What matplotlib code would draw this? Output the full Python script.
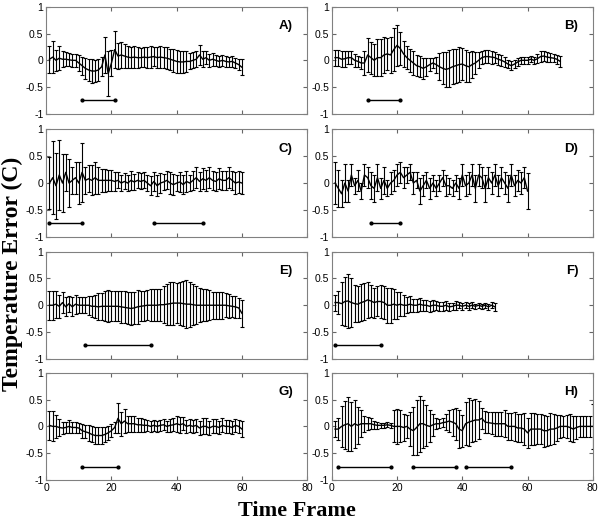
import numpy as np
import matplotlib.pyplot as plt

# mean temperature error and std per time frame
a_mean = [0.02, 0.06, 0.0, 0.04, 0.02, 0.02, 0.01, 0.0, 0.0, -0.05,
          -0.1, -0.15, -0.18, -0.2, -0.2, -0.18, -0.12, 0.1, -0.25, -0.05,
          0.2, 0.08, 0.1, 0.08, 0.06, 0.05, 0.06, 0.05, 0.05, 0.06,
          0.05, 0.06, 0.07, 0.05, 0.06, 0.05, 0.04, 0.02, 0.0, -0.02,
          -0.03, -0.03, -0.02, -0.02, 0.0, 0.02, 0.1, 0.02, 0.05, 0.0,
          0.02, 0.0, -0.02, 0.0, -0.02, -0.03, -0.02, -0.05, -0.08, -0.13]
a_err = [0.25, 0.3, 0.2, 0.22, 0.15, 0.13, 0.12, 0.12, 0.12, 0.15,
         0.17, 0.2, 0.2, 0.22, 0.2, 0.2, 0.18, 0.33, 0.42, 0.25,
         0.35, 0.25, 0.25, 0.22, 0.2, 0.2, 0.2, 0.2, 0.18, 0.18,
         0.2, 0.2, 0.18, 0.2, 0.2, 0.2, 0.2, 0.2, 0.22, 0.22,
         0.2, 0.2, 0.2, 0.15, 0.15, 0.15, 0.18, 0.15, 0.12, 0.12,
         0.12, 0.1, 0.1, 0.1, 0.1, 0.1, 0.1, 0.1, 0.1, 0.15]

b_mean = [0.05, 0.05, 0.02, 0.03, 0.05, 0.05, 0.0, -0.02, -0.05, -0.05,
          0.1, 0.05, 0.0, 0.05, 0.05, 0.1, 0.12, 0.1, 0.2, 0.28,
          0.22, 0.12, 0.05, 0.0, -0.05, -0.1, -0.12, -0.15, -0.12, -0.08,
          -0.05, -0.08, -0.12, -0.15, -0.17, -0.15, -0.12, -0.1, -0.08, -0.07,
          -0.1, -0.12, -0.08, -0.05, 0.0, 0.05, 0.07, 0.07, 0.06, 0.05,
          0.02, 0.0, -0.03, -0.07, -0.1, -0.07, -0.03, 0.0, 0.0, 0.0,
          0.02, 0.0, 0.03, 0.07, 0.08, 0.06, 0.05, 0.04, 0.02, -0.02]
b_err = [0.15, 0.15, 0.15, 0.15, 0.12, 0.12, 0.12, 0.1, 0.12, 0.22,
         0.32, 0.3, 0.3, 0.35, 0.35, 0.33, 0.3, 0.33, 0.4, 0.38,
         0.3, 0.25, 0.22, 0.22, 0.22, 0.2, 0.2, 0.2, 0.17, 0.12,
         0.1, 0.15, 0.25, 0.3, 0.33, 0.35, 0.33, 0.32, 0.32, 0.3,
         0.3, 0.28, 0.25, 0.2, 0.15, 0.12, 0.12, 0.12, 0.12, 0.1,
         0.1, 0.1, 0.1, 0.08, 0.08, 0.08, 0.07, 0.07, 0.07, 0.06,
         0.06, 0.06, 0.08, 0.1, 0.1, 0.09, 0.08, 0.08, 0.08, 0.1]

c_mean = [0.0, 0.1, -0.05, 0.15, 0.0, 0.2, 0.0, 0.05, 0.1, 0.0,
          0.2, 0.05, 0.08, 0.05, 0.1, 0.05, 0.05, 0.05, 0.05, 0.05,
          0.03, 0.05, 0.0, 0.03, 0.0, 0.05, 0.02, 0.05, 0.03, 0.05,
          0.0, -0.05, 0.03, -0.05, 0.0, 0.02, 0.05, 0.0, -0.03, 0.0,
          0.02, -0.03, 0.03, 0.0, 0.05, 0.1, 0.03, 0.08, 0.05, 0.1,
          0.05, 0.03, 0.08, 0.05, 0.05, 0.1, 0.05, 0.0, 0.02, 0.0]
c_err = [0.48, 0.68, 0.62, 0.65, 0.55, 0.35, 0.45, 0.25, 0.3, 0.4,
         0.55, 0.25, 0.25, 0.28, 0.3, 0.25, 0.22, 0.22, 0.2, 0.2,
         0.18, 0.15, 0.15, 0.15, 0.15, 0.18, 0.15, 0.15, 0.15, 0.15,
         0.15, 0.18, 0.18, 0.2, 0.18, 0.15, 0.17, 0.2, 0.2, 0.15,
         0.18, 0.18, 0.2, 0.15, 0.18, 0.2, 0.18, 0.2, 0.2, 0.2,
         0.18, 0.18, 0.2, 0.18, 0.18, 0.2, 0.18, 0.2, 0.2, 0.2]

d_mean = [0.0, -0.1, -0.2, 0.0, -0.15, 0.15, -0.05, 0.05, -0.15, 0.15,
          0.1, -0.05, -0.1, 0.1, -0.1, 0.05, -0.1, 0.0, 0.05, 0.15,
          0.2, 0.1, 0.15, 0.2, 0.0, 0.05, -0.15, -0.05, 0.05, -0.1,
          0.0, -0.1, 0.0, 0.1, -0.05, -0.05, -0.1, 0.0, -0.1, 0.15,
          -0.05, 0.0, 0.15, -0.1, 0.15, 0.1, -0.1, 0.1, 0.0, 0.15,
          -0.05, 0.1, 0.0, -0.1, 0.15, -0.05, 0.05, 0.0, 0.1, -0.15]
d_err = [0.4, 0.35, 0.25, 0.35, 0.2, 0.2, 0.15, 0.2, 0.15, 0.2,
         0.2, 0.25, 0.25, 0.25, 0.2, 0.25, 0.15, 0.2, 0.2, 0.2,
         0.2, 0.2, 0.15, 0.15, 0.2, 0.15, 0.25, 0.2, 0.15, 0.2,
         0.15, 0.15, 0.15, 0.15, 0.2, 0.15, 0.15, 0.15, 0.2, 0.2,
         0.2, 0.2, 0.2, 0.25, 0.2, 0.2, 0.25, 0.2, 0.2, 0.2,
         0.2, 0.2, 0.2, 0.25, 0.2, 0.2, 0.2, 0.2, 0.2, 0.33]

e_mean = [0.0, 0.0, 0.02, -0.02, 0.05, -0.03, 0.03, -0.03, 0.02, 0.0,
          0.0, 0.0, 0.0, -0.02, -0.02, -0.03, -0.02, -0.02, -0.02, -0.02,
          -0.02, -0.02, -0.03, -0.04, -0.05, -0.06, -0.05, -0.03, -0.02, -0.01,
          0.0, 0.0, 0.0, 0.0, 0.01, 0.01, 0.02, 0.03, 0.04, 0.04,
          0.04, 0.03, 0.02, 0.02, 0.01, 0.0, 0.0, 0.0, 0.0, 0.0,
          0.0, 0.0, 0.0, 0.0, 0.0, -0.01, -0.02, -0.03, -0.05, -0.15]
e_err = [0.27, 0.27, 0.25, 0.22, 0.2, 0.18, 0.15, 0.18, 0.18, 0.15,
         0.15, 0.15, 0.18, 0.2, 0.22, 0.25, 0.25, 0.28, 0.3, 0.28,
         0.28, 0.28, 0.3, 0.3, 0.3, 0.3, 0.3, 0.32, 0.28, 0.28,
         0.28, 0.3, 0.3, 0.3, 0.3, 0.35, 0.38, 0.4, 0.4, 0.38,
         0.4, 0.42, 0.45, 0.42, 0.38, 0.35, 0.32, 0.3, 0.3, 0.28,
         0.25, 0.25, 0.25, 0.25, 0.22, 0.22, 0.2, 0.2, 0.18, 0.25]

f_mean = [0.05, 0.05, 0.03, 0.07, 0.08, 0.05, 0.03, 0.02, 0.05, 0.07,
          0.1, 0.08, 0.05, 0.07, 0.07, 0.05, 0.0, 0.0, 0.02, 0.0,
          0.02, 0.0, 0.0, 0.02, 0.0, 0.0, 0.02, 0.0, 0.0, -0.02,
          0.0, 0.0, -0.02, -0.02, 0.0, -0.03, -0.02, 0.0, 0.0, -0.02,
          0.0, -0.02, 0.0, -0.02, 0.0, -0.02, 0.0, -0.03, 0.0, -0.03]
f_err = [0.15, 0.22, 0.4, 0.45, 0.5, 0.45, 0.35, 0.33, 0.35, 0.35,
         0.33, 0.3, 0.28, 0.28, 0.3, 0.3, 0.33, 0.33, 0.28, 0.25,
         0.22, 0.2, 0.15, 0.15, 0.12, 0.12, 0.12, 0.1, 0.1, 0.1,
         0.1, 0.08, 0.08, 0.08, 0.08, 0.07, 0.07, 0.08, 0.06, 0.06,
         0.06, 0.06, 0.06, 0.05, 0.05, 0.05, 0.05, 0.06, 0.06, 0.07]

g_mean = [0.02, 0.0, 0.0, -0.02, -0.03, -0.02, 0.0, -0.02, -0.02, -0.03,
          -0.08, -0.1, -0.12, -0.15, -0.17, -0.17, -0.17, -0.15, -0.12, -0.08,
          -0.02, 0.15, 0.05, 0.1, 0.05, 0.05, 0.05, 0.03, 0.03, 0.02,
          0.02, 0.0, 0.02, 0.0, 0.02, 0.03, 0.0, 0.02, 0.03, 0.05,
          0.03, 0.05, 0.0, 0.02, 0.0, 0.02, -0.03, 0.0, 0.0, -0.03,
          0.0, 0.0, -0.02, 0.02, 0.0, 0.0, -0.02, 0.02, 0.0, -0.05]
g_err = [0.27, 0.28, 0.22, 0.15, 0.12, 0.1, 0.12, 0.1, 0.1, 0.1,
         0.13, 0.12, 0.15, 0.15, 0.15, 0.15, 0.15, 0.14, 0.13, 0.12,
         0.1, 0.28, 0.22, 0.22, 0.15, 0.15, 0.15, 0.13, 0.13, 0.12,
         0.1, 0.1, 0.1, 0.1, 0.1, 0.1, 0.1, 0.12, 0.12, 0.15,
         0.15, 0.12, 0.12, 0.12, 0.12, 0.12, 0.13, 0.15, 0.15, 0.13,
         0.13, 0.13, 0.13, 0.13, 0.12, 0.12, 0.12, 0.12, 0.12, 0.15]

h_mean = [-0.05, -0.05, 0.0, 0.03, 0.05, 0.0, 0.05, 0.02, 0.05, 0.05,
          0.05, 0.05, 0.03, 0.02, 0.02, 0.02, 0.03, 0.02, 0.0, 0.0,
          0.0, -0.02, 0.0, -0.05, -0.08, -0.02, 0.05, 0.05, 0.02, 0.0,
          0.03, 0.05, 0.05, 0.07, 0.08, 0.1, 0.08, 0.05, -0.05, -0.08,
          0.05, 0.08, 0.1, 0.12, 0.12, 0.15, 0.08, 0.07, 0.06, 0.05,
          0.05, 0.05, 0.05, 0.0, 0.0, 0.0, -0.03, -0.03, -0.05, -0.12,
          -0.05, -0.05, -0.05, -0.05, -0.08, -0.08, -0.05, -0.05, -0.03, 0.0,
          0.0, 0.0, -0.02, -0.05, -0.02, 0.0, 0.0, 0.0, 0.0, 0.0]
h_err = [0.15, 0.2, 0.38, 0.45, 0.5, 0.45, 0.45, 0.35, 0.25, 0.15,
         0.12, 0.1, 0.08, 0.06, 0.05, 0.05, 0.05, 0.05, 0.3, 0.33,
         0.3, 0.25, 0.22, 0.32, 0.45, 0.52, 0.52, 0.45, 0.38, 0.3,
         0.2, 0.1, 0.08, 0.08, 0.15, 0.2, 0.25, 0.3, 0.35, 0.3,
         0.4, 0.45, 0.4, 0.4, 0.35, 0.2, 0.2, 0.2, 0.2, 0.22,
         0.22, 0.22, 0.25, 0.25, 0.25, 0.27, 0.27, 0.27, 0.3, 0.28,
         0.3, 0.3, 0.28, 0.28, 0.3, 0.28, 0.3, 0.28, 0.25, 0.22,
         0.2, 0.22, 0.25, 0.25, 0.22, 0.2, 0.2, 0.2, 0.2, 0.42]

# time-frame intervals marked by the bars at -0.75
a_segs = [(11, 21)]
b_segs = [(11, 21)]
c_segs = [(1, 11), (33, 48)]
d_segs = [(12, 21)]
e_segs = [(12, 32)]
f_segs = [(1, 15)]
g_segs = [(11, 22)]
h_segs = [(2, 18), (25, 38), (41, 55)]

labels = ['A)', 'B)', 'C)', 'D)', 'E)', 'F)', 'G)', 'H)']
means = [a_mean, b_mean, c_mean, d_mean, e_mean, f_mean, g_mean, h_mean]
errs = [a_err, b_err, c_err, d_err, e_err, f_err, g_err, h_err]
segs = [a_segs, b_segs, c_segs, d_segs, e_segs, f_segs, g_segs, h_segs]

plt.rcParams['font.family'] = ['Liberation Sans', 'DejaVu Sans']

fig = plt.figure(figsize=(6, 5.2), dpi=100)
lefts = [0.077, 0.553]
bottoms = [0.781, 0.545, 0.310, 0.077]
w, h = 0.435, 0.206

for i in range(8):
    row, col = i // 2, i % 2
    ax = fig.add_axes([lefts[col], bottoms[row], w, h])
    m = np.array(means[i])
    e = np.array(errs[i])
    x = np.arange(1, len(m) + 1)
    ax.errorbar(x, m, yerr=e, color='k', lw=1.0, elinewidth=0.8,
                capsize=1.3, capthick=0.8)
    for s0, s1 in segs[i]:
        ax.plot([s0, s1], [-0.75, -0.75], color='k', lw=1.0,
                marker='o', markersize=2)
    ax.set_xlim(0, 80)
    ax.set_ylim(-1, 1)
    ax.set_xticks([0, 20, 40, 60, 80])
    ax.set_yticks([-1, -0.5, 0, 0.5, 1])
    ax.set_yticklabels(['-1', '-0.5', '0', '0.5', '1'])
    if row < 3:
        ax.set_xticklabels([])
    ax.tick_params(direction='in', top=True, right=True, length=3,
                   labelsize=7.5, pad=2, color='0.4')
    for sp in ax.spines.values():
        sp.set_color('0.5')
        sp.set_linewidth(0.8)
    ax.text(0.945, 0.82, labels[i], transform=ax.transAxes, ha='right',
            va='center', fontsize=9.5, fontweight='bold')

fig.text(0.02, 0.473, 'Temperature Error (C)', rotation=90, ha='center',
         va='center', fontsize=17, fontweight='bold', family='Liberation Serif')
fig.text(0.495, 0.007, 'Time Frame', ha='center', va='baseline',
         fontsize=16, fontweight='bold', family='Liberation Serif')

fig.savefig('out.png', dpi=100)
